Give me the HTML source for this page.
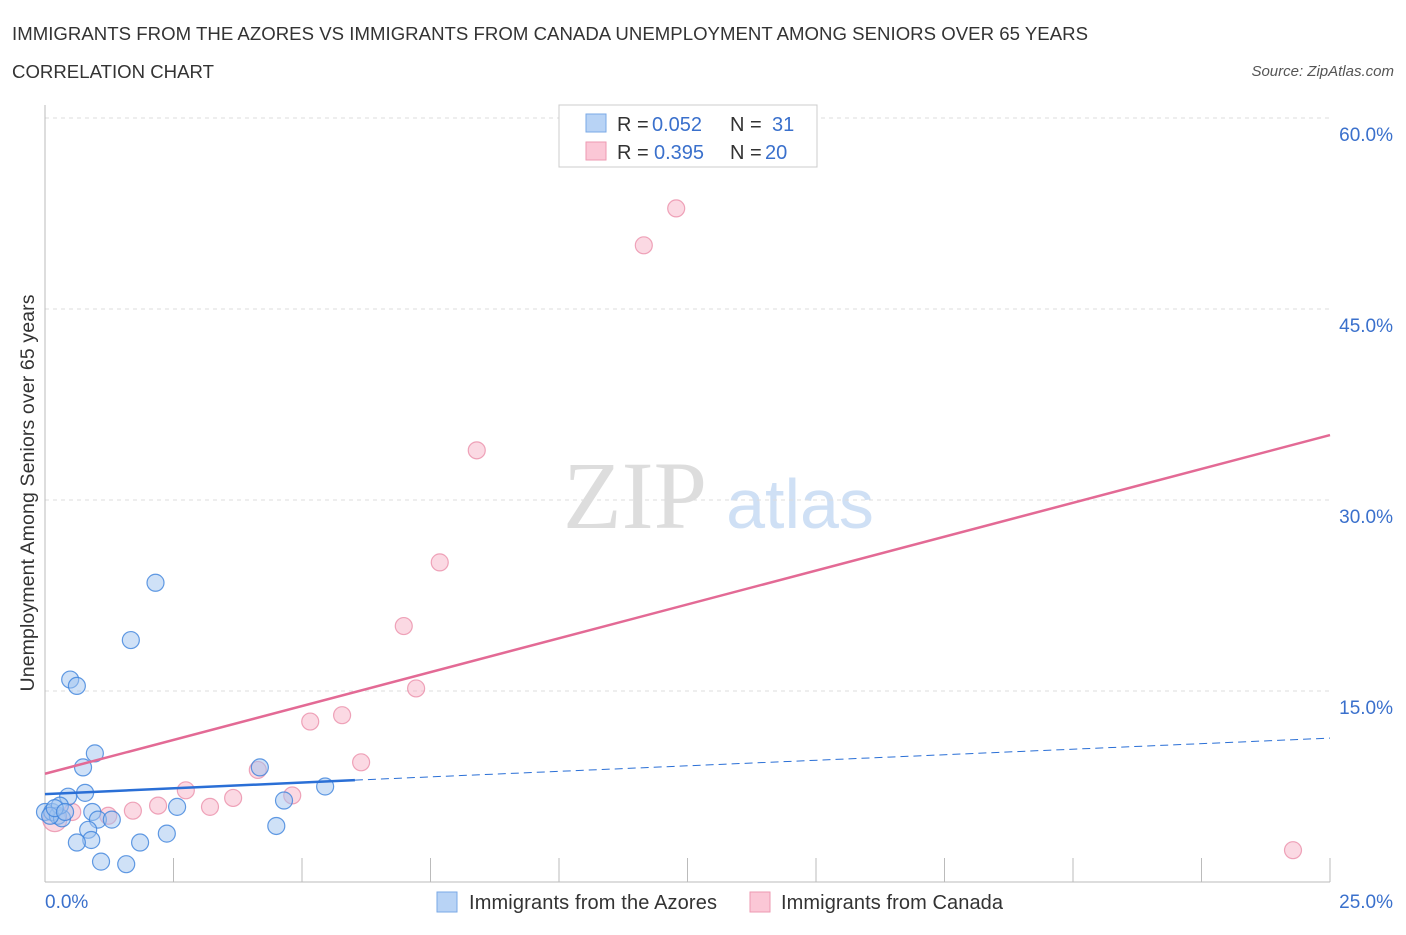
<!DOCTYPE html>
<html><head><meta charset="utf-8"><style>
body{margin:0;background:#fff;font-family:"Liberation Sans",sans-serif;}
svg text{font-family:"Liberation Sans",sans-serif;}
</style></head><body>
<svg id="chart" width="1406" height="930" xmlns="http://www.w3.org/2000/svg">
<text x="12" y="40" font-size="18.6" fill="#333" textLength="1076">IMMIGRANTS FROM THE AZORES VS IMMIGRANTS FROM CANADA UNEMPLOYMENT AMONG SENIORS OVER 65 YEARS</text>
<text x="12" y="78" font-size="18.6" fill="#333" textLength="202">CORRELATION CHART</text>
<text x="1394" y="76" font-size="15" fill="#555" font-style="italic" text-anchor="end">Source: ZipAtlas.com</text>
<text x="635" y="528" font-size="96" fill="#ddd" style="font-family:'Liberation Serif',serif" text-anchor="middle">ZIP</text>
<text x="800" y="528" font-size="70" fill="#cfe0f5" text-anchor="middle">atlas</text>
<text transform="translate(34,493) rotate(-90)" font-size="19.5" fill="#333" text-anchor="middle" textLength="397">Unemployment Among Seniors over 65 years</text>
<g id="grid"></g><g id="marks"></g>
<g>
<rect x="559" y="105" width="258" height="62" fill="#fff" stroke="#ccc"/>
<rect x="586" y="114" width="20" height="18" fill="#b8d3f5" stroke="#7aa8e6"/>
<rect x="586" y="142" width="20" height="18" fill="#fbc7d6" stroke="#ee9ab2"/>
<text y="131" font-size="20" fill="#333"><tspan x="617">R =</tspan><tspan x="652" fill="#3a70cc">0.052</tspan><tspan x="730">N =</tspan><tspan x="772" fill="#3a70cc">31</tspan></text>
<text y="159" font-size="20" fill="#333"><tspan x="617">R =</tspan><tspan x="654" fill="#3a70cc">0.395</tspan><tspan x="730">N =</tspan><tspan x="765" fill="#3a70cc">20</tspan></text>
</g>
<g>
<rect x="437" y="892" width="20" height="20" fill="#b8d3f5" stroke="#7aa8e6"/>
<text x="469" y="909" font-size="20" fill="#333" textLength="248">Immigrants from the Azores</text>
<rect x="750" y="892" width="20" height="20" fill="#fbc7d6" stroke="#ee9ab2"/>
<text x="781" y="909" font-size="20" fill="#333" textLength="222">Immigrants from Canada</text>
</g>
<text x="45" y="908" font-size="19" fill="#3a70cc">0.0%</text>
<text x="1393" y="908" font-size="19" fill="#3a70cc" text-anchor="end">25.0%</text>
</svg>
<script>
const yTicks=[15,30,45,60];
const yTickLabels=["15.0%","30.0%","45.0%","60.0%"];
const xTicks=[0,2.5,5,7.5,10,12.5,15,17.5,20,22.5,25];
const azoresX=[2.15,1.67,0.49,0.62,0.97,0.74,0.78,0.45,0,0.14,0.25,0.33,0.29,0.92,1.03,1.3,0.84,0.9,0.62,1.09,1.58,1.85,2.37,2.57,4.18,4.5,4.65,5.45,0.1,0.19,0.39];
const azoresY=[23.5,19.0,15.9,15.4,10.1,9.0,7.0,6.7,5.5,5.5,5.2,5.0,6.0,5.5,4.9,4.9,4.1,3.3,3.1,1.6,1.4,3.1,3.8,5.9,9.0,4.4,6.4,7.5,5.2,5.8,5.5];
const canadaX=[0.19,0.53,1.23,1.71,2.2,2.74,3.21,3.66,4.14,4.81,5.16,5.78,6.15,6.98,7.22,7.68,8.4,11.65,12.28,24.28];
const canadaY=[4.9,5.5,5.2,5.6,6.0,7.2,5.9,6.6,8.8,6.8,12.6,13.1,9.4,20.1,15.2,25.1,33.9,50.0,52.9,2.5];
const azoresTrend=[[0,6.9],[6.03,8.0],[25,11.3]];
const canadaTrend=[[0,8.5],[25,35.1]];
const X=v=>45+v/25*1285, Y=v=>882-v/15*191;
const NS="http://www.w3.org/2000/svg";
const grid=document.getElementById('grid'), marks=document.getElementById('marks');
function mk(tag,attrs,parent){const e=document.createElementNS(NS,tag);for(const k in attrs)e.setAttribute(k,attrs[k]);parent.appendChild(e);return e;}
yTicks.forEach((t,i)=>{
 const l=mk('line',{x1:45,x2:1330,y1:Y(t),y2:Y(t),stroke:'#ddd','stroke-dasharray':'4,4'},grid);
 
 
 const tx=mk('text',{x:1393,y:Y(t)+23,'font-size':19,fill:'#3a70cc','text-anchor':'end'},grid);
 tx.textContent=yTickLabels[i];
 
 
});
const ax=mk('line',{x1:45,x2:45,y1:105,y2:882,stroke:'#bbb'},grid);


const bx=mk('line',{x1:45,x2:1330,y1:882,y2:882,stroke:'#bbb'},grid);


xTicks.forEach(t=>{
 const l=mk('line',{x1:X(t),x2:X(t),y1:858,y2:882,stroke:'#bbb'},grid);
 
 
});
canadaX.forEach((v,i)=>{
 const c=mk('circle',{cx:X(v),cy:Y(canadaY[i]),r:i===0?12:8.5,fill:'rgba(248,180,200,0.5)',stroke:'rgba(232,130,160,0.7)','stroke-width':1.2},marks);
 
 
});
azoresX.forEach((v,i)=>{
 const c=mk('circle',{cx:X(v),cy:Y(azoresY[i]),r:8.5,fill:'rgba(160,196,240,0.5)',stroke:'rgba(60,130,220,0.8)','stroke-width':1.2},marks);
 
 
});
const p=mk('line',{x1:X(canadaTrend[0][0]),y1:Y(canadaTrend[0][1]),x2:X(canadaTrend[1][0]),y2:Y(canadaTrend[1][1]),stroke:'#e36a95','stroke-width':2.5},marks);


const b1=mk('line',{x1:X(azoresTrend[0][0]),y1:Y(azoresTrend[0][1]),x2:X(azoresTrend[1][0]),y2:Y(azoresTrend[1][1]),stroke:'#2a6fd6','stroke-width':2.5},marks);


const b2=mk('line',{x1:X(azoresTrend[1][0]),y1:Y(azoresTrend[1][1]),x2:X(azoresTrend[2][0]),y2:Y(azoresTrend[2][1]),stroke:'#2a6fd6','stroke-width':1,'stroke-dasharray':'8,5'},marks);


</script>
</body></html>
